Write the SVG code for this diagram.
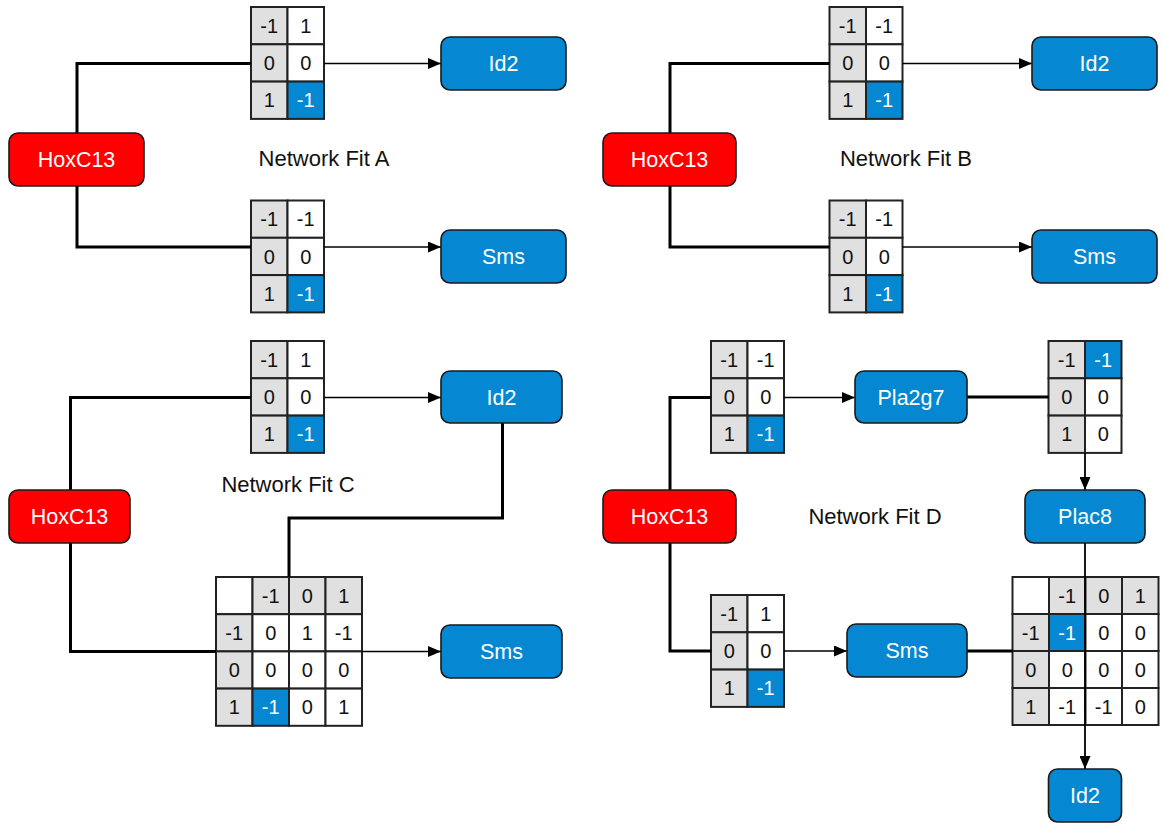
<svg xmlns="http://www.w3.org/2000/svg" width="1163" height="823" viewBox="0 0 1163 823">
<defs>
<marker id="arr" markerWidth="13" markerHeight="11" refX="13" refY="5.5" orient="auto" markerUnits="userSpaceOnUse">
<path d="M0,0 L13,5.5 L0,11 z" fill="#000"/>
</marker>
<style>
.node rect{stroke:#1a1a1a;stroke-width:1.6}
.red{fill:#ff0000}
.blue{fill:#0588d1}
.nt{font-family:"Liberation Sans",Arial,sans-serif;font-size:21.5px;fill:#fff;text-anchor:middle}
.lbl{font-family:"Liberation Sans",Arial,sans-serif;font-size:22px;fill:#111;text-anchor:middle}
.tbl rect{stroke:#222;stroke-width:2}
.g{fill:#e0e0e0}
.w{fill:#fff}
.b{fill:#0588d1}
.tbl text{font-family:"Liberation Sans",Arial,sans-serif;font-size:20px;fill:#111;text-anchor:middle}
.tbl text.wt{fill:#fff}
.thick{fill:none;stroke:#000;stroke-width:3}
.thin{fill:none;stroke:#000;stroke-width:1.5;marker-end:url(#arr)}
.mid{fill:none;stroke:#000;stroke-width:1.8;marker-end:url(#arr)}
</style>
</defs>
<rect width="1163" height="823" fill="#fff"/>

<!-- tables -->
<g id="tA1" class="tbl" transform="translate(251,7)">
<rect class="g" x="0" y="0" width="36.5" height="37.3"/><rect class="w" x="36.5" y="0" width="36.5" height="37.3"/>
<rect class="g" x="0" y="37.3" width="36.5" height="37.3"/><rect class="w" x="36.5" y="37.3" width="36.5" height="37.3"/>
<rect class="g" x="0" y="74.6" width="36.5" height="37.3"/><rect class="b" x="36.5" y="74.6" width="36.5" height="37.3"/>
<text x="18.25" y="25.7">-1</text><text x="54.75" y="25.7">1</text>
<text x="18.25" y="63">0</text><text x="54.75" y="63">0</text>
<text x="18.25" y="100.3">1</text><text class="wt" x="54.75" y="100.3">-1</text>
</g>
<g id="tA2" class="tbl" transform="translate(251,200.5)">
<rect class="g" x="0" y="0" width="36.5" height="37.3"/><rect class="w" x="36.5" y="0" width="36.5" height="37.3"/>
<rect class="g" x="0" y="37.3" width="36.5" height="37.3"/><rect class="w" x="36.5" y="37.3" width="36.5" height="37.3"/>
<rect class="g" x="0" y="74.6" width="36.5" height="37.3"/><rect class="b" x="36.5" y="74.6" width="36.5" height="37.3"/>
<text x="18.25" y="25.7">-1</text><text x="54.75" y="25.7">-1</text>
<text x="18.25" y="63">0</text><text x="54.75" y="63">0</text>
<text x="18.25" y="100.3">1</text><text class="wt" x="54.75" y="100.3">-1</text>
</g>
<g id="tB1" class="tbl" transform="translate(829.5,7)">
<rect class="g" x="0" y="0" width="36.5" height="37.3"/><rect class="w" x="36.5" y="0" width="36.5" height="37.3"/>
<rect class="g" x="0" y="37.3" width="36.5" height="37.3"/><rect class="w" x="36.5" y="37.3" width="36.5" height="37.3"/>
<rect class="g" x="0" y="74.6" width="36.5" height="37.3"/><rect class="b" x="36.5" y="74.6" width="36.5" height="37.3"/>
<text x="18.25" y="25.7">-1</text><text x="54.75" y="25.7">-1</text>
<text x="18.25" y="63">0</text><text x="54.75" y="63">0</text>
<text x="18.25" y="100.3">1</text><text class="wt" x="54.75" y="100.3">-1</text>
</g>
<g id="tB2" class="tbl" transform="translate(829.5,200.5)">
<rect class="g" x="0" y="0" width="36.5" height="37.3"/><rect class="w" x="36.5" y="0" width="36.5" height="37.3"/>
<rect class="g" x="0" y="37.3" width="36.5" height="37.3"/><rect class="w" x="36.5" y="37.3" width="36.5" height="37.3"/>
<rect class="g" x="0" y="74.6" width="36.5" height="37.3"/><rect class="b" x="36.5" y="74.6" width="36.5" height="37.3"/>
<text x="18.25" y="25.7">-1</text><text x="54.75" y="25.7">-1</text>
<text x="18.25" y="63">0</text><text x="54.75" y="63">0</text>
<text x="18.25" y="100.3">1</text><text class="wt" x="54.75" y="100.3">-1</text>
</g>
<g id="tC1" class="tbl" transform="translate(251,341)">
<rect class="g" x="0" y="0" width="36.5" height="37.3"/><rect class="w" x="36.5" y="0" width="36.5" height="37.3"/>
<rect class="g" x="0" y="37.3" width="36.5" height="37.3"/><rect class="w" x="36.5" y="37.3" width="36.5" height="37.3"/>
<rect class="g" x="0" y="74.6" width="36.5" height="37.3"/><rect class="b" x="36.5" y="74.6" width="36.5" height="37.3"/>
<text x="18.25" y="25.7">-1</text><text x="54.75" y="25.7">1</text>
<text x="18.25" y="63">0</text><text x="54.75" y="63">0</text>
<text x="18.25" y="100.3">1</text><text class="wt" x="54.75" y="100.3">-1</text>
</g>
<g id="tC2" class="tbl" transform="translate(216,577)">
<rect class="w" x="0" y="0" width="36.5" height="37.2"/><rect class="g" x="36.5" y="0" width="36.5" height="37.2"/><rect class="g" x="73" y="0" width="36.5" height="37.2"/><rect class="g" x="109.5" y="0" width="36.5" height="37.2"/>
<rect class="g" x="0" y="37.2" width="36.5" height="37.2"/><rect class="w" x="36.5" y="37.2" width="36.5" height="37.2"/><rect class="w" x="73" y="37.2" width="36.5" height="37.2"/><rect class="w" x="109.5" y="37.2" width="36.5" height="37.2"/>
<rect class="g" x="0" y="74.4" width="36.5" height="37.2"/><rect class="w" x="36.5" y="74.4" width="36.5" height="37.2"/><rect class="w" x="73" y="74.4" width="36.5" height="37.2"/><rect class="w" x="109.5" y="74.4" width="36.5" height="37.2"/>
<rect class="g" x="0" y="111.6" width="36.5" height="37.2"/><rect class="b" x="36.5" y="111.6" width="36.5" height="37.2"/><rect class="w" x="73" y="111.6" width="36.5" height="37.2"/><rect class="w" x="109.5" y="111.6" width="36.5" height="37.2"/>
<text x="54.75" y="25.7">-1</text><text x="91.25" y="25.7">0</text><text x="127.75" y="25.7">1</text>
<text x="18.25" y="62.9">-1</text><text x="54.75" y="62.9">0</text><text x="91.25" y="62.9">1</text><text x="127.75" y="62.9">-1</text>
<text x="18.25" y="100.1">0</text><text x="54.75" y="100.1">0</text><text x="91.25" y="100.1">0</text><text x="127.75" y="100.1">0</text>
<text x="18.25" y="137.3">1</text><text class="wt" x="54.75" y="137.3">-1</text><text x="91.25" y="137.3">0</text><text x="127.75" y="137.3">1</text>
</g>
<g id="tD1" class="tbl" transform="translate(711,341)">
<rect class="g" x="0" y="0" width="36.5" height="37.3"/><rect class="w" x="36.5" y="0" width="36.5" height="37.3"/>
<rect class="g" x="0" y="37.3" width="36.5" height="37.3"/><rect class="w" x="36.5" y="37.3" width="36.5" height="37.3"/>
<rect class="g" x="0" y="74.6" width="36.5" height="37.3"/><rect class="b" x="36.5" y="74.6" width="36.5" height="37.3"/>
<text x="18.25" y="25.7">-1</text><text x="54.75" y="25.7">-1</text>
<text x="18.25" y="63">0</text><text x="54.75" y="63">0</text>
<text x="18.25" y="100.3">1</text><text class="wt" x="54.75" y="100.3">-1</text>
</g>
<g id="tD2" class="tbl" transform="translate(1048.5,341)">
<rect class="g" x="0" y="0" width="36.5" height="37.3"/><rect class="b" x="36.5" y="0" width="36.5" height="37.3"/>
<rect class="g" x="0" y="37.3" width="36.5" height="37.3"/><rect class="w" x="36.5" y="37.3" width="36.5" height="37.3"/>
<rect class="g" x="0" y="74.6" width="36.5" height="37.3"/><rect class="w" x="36.5" y="74.6" width="36.5" height="37.3"/>
<text x="18.25" y="25.7">-1</text><text class="wt" x="54.75" y="25.7">-1</text>
<text x="18.25" y="63">0</text><text x="54.75" y="63">0</text>
<text x="18.25" y="100.3">1</text><text x="54.75" y="100.3">0</text>
</g>
<g id="tD3" class="tbl" transform="translate(711,595)">
<rect class="g" x="0" y="0" width="36.5" height="37.3"/><rect class="w" x="36.5" y="0" width="36.5" height="37.3"/>
<rect class="g" x="0" y="37.3" width="36.5" height="37.3"/><rect class="w" x="36.5" y="37.3" width="36.5" height="37.3"/>
<rect class="g" x="0" y="74.6" width="36.5" height="37.3"/><rect class="b" x="36.5" y="74.6" width="36.5" height="37.3"/>
<text x="18.25" y="25.7">-1</text><text x="54.75" y="25.7">1</text>
<text x="18.25" y="63">0</text><text x="54.75" y="63">0</text>
<text x="18.25" y="100.3">1</text><text class="wt" x="54.75" y="100.3">-1</text>
</g>
<g id="tD4" class="tbl" transform="translate(1012.5,577)">
<rect class="w" x="0" y="0" width="36.5" height="37"/><rect class="g" x="36.5" y="0" width="36.5" height="37"/><rect class="g" x="73" y="0" width="36.5" height="37"/><rect class="g" x="109.5" y="0" width="36.5" height="37"/>
<rect class="g" x="0" y="37" width="36.5" height="37"/><rect class="b" x="36.5" y="37" width="36.5" height="37"/><rect class="w" x="73" y="37" width="36.5" height="37"/><rect class="w" x="109.5" y="37" width="36.5" height="37"/>
<rect class="g" x="0" y="74" width="36.5" height="37"/><rect class="w" x="36.5" y="74" width="36.5" height="37"/><rect class="w" x="73" y="74" width="36.5" height="37"/><rect class="w" x="109.5" y="74" width="36.5" height="37"/>
<rect class="g" x="0" y="111" width="36.5" height="37"/><rect class="w" x="36.5" y="111" width="36.5" height="37"/><rect class="w" x="73" y="111" width="36.5" height="37"/><rect class="w" x="109.5" y="111" width="36.5" height="37"/>
<text x="54.75" y="25.6">-1</text><text x="91.25" y="25.6">0</text><text x="127.75" y="25.6">1</text>
<text x="18.25" y="62.6">-1</text><text class="wt" x="54.75" y="62.6">-1</text><text x="91.25" y="62.6">0</text><text x="127.75" y="62.6">0</text>
<text x="18.25" y="99.6">0</text><text x="54.75" y="99.6">0</text><text x="91.25" y="99.6">0</text><text x="127.75" y="99.6">0</text>
<text x="18.25" y="136.6">1</text><text x="54.75" y="136.6">-1</text><text x="91.25" y="136.6">-1</text><text x="127.75" y="136.6">0</text>
</g>

<g id="connectors">
<!-- A -->
<path class="thick" d="M77,133 V63.5 H251"/>
<path class="thin" d="M324,63.5 H441"/>
<path class="thick" d="M77,186 V247 H251"/>
<path class="thin" d="M324,247 H441"/>
<!-- B -->
<path class="thick" d="M670,133 V63.5 H829.5"/>
<path class="thin" d="M902.5,63.5 H1032"/>
<path class="thick" d="M670,186 V247 H829.5"/>
<path class="thin" d="M902.5,247 H1032"/>
<!-- C -->
<path class="thick" d="M70.5,490 V397.5 H251"/>
<path class="thin" d="M324,397.5 H441"/>
<path class="thick" d="M70.5,543 V651.5 H216"/>
<path class="thin" d="M362,651.5 H441"/>
<path class="thick" d="M502.5,423 V518 H289 V577"/>
<!-- D -->
<path class="thick" d="M670,490 V397.5 H711"/>
<path class="thin" d="M784,397.5 H855"/>
<path class="thick" d="M967,397 H1048.5"/>
<path class="mid" d="M1085,453 V490"/>
<path class="thick" d="M670,543 V651 H711"/>
<path class="thin" d="M784,651 H847"/>
<path class="thick" d="M967,651 H1012.5"/>
<path class="mid" d="M1085,543 V769"/>
</g>

<!-- nodes -->
<g id="hoxA" class="node"><rect class="red" x="9" y="133" width="135" height="53" rx="9"/><text class="nt" x="76.5" y="167">HoxC13</text></g>
<g id="id2A" class="node"><rect class="blue" x="441" y="37" width="125" height="53" rx="9"/><text class="nt" x="503.5" y="71">Id2</text></g>
<g id="smsA" class="node"><rect class="blue" x="441" y="230" width="125" height="53" rx="9"/><text class="nt" x="503.5" y="264">Sms</text></g>

<g id="hoxB" class="node"><rect class="red" x="603" y="133" width="133" height="53" rx="9"/><text class="nt" x="669.5" y="167">HoxC13</text></g>
<g id="id2B" class="node"><rect class="blue" x="1032" y="37" width="125" height="53" rx="9"/><text class="nt" x="1094.5" y="71">Id2</text></g>
<g id="smsB" class="node"><rect class="blue" x="1032" y="230" width="125" height="53" rx="9"/><text class="nt" x="1094.5" y="264">Sms</text></g>

<g id="hoxC" class="node"><rect class="red" x="9" y="490" width="121" height="53" rx="9"/><text class="nt" x="69.5" y="524">HoxC13</text></g>
<g id="id2C" class="node"><rect class="blue" x="441" y="371" width="121" height="52" rx="9"/><text class="nt" x="501.5" y="404.5">Id2</text></g>
<g id="smsC" class="node"><rect class="blue" x="441" y="625" width="121" height="53" rx="9"/><text class="nt" x="501.5" y="659">Sms</text></g>

<g id="hoxD" class="node"><rect class="red" x="603" y="490" width="133" height="53" rx="9"/><text class="nt" x="669.5" y="524">HoxC13</text></g>
<g id="pla2g7" class="node"><rect class="blue" x="855" y="371" width="112" height="52" rx="9"/><text class="nt" x="911" y="404.5">Pla2g7</text></g>
<g id="plac8" class="node"><rect class="blue" x="1025" y="490" width="120" height="53" rx="9"/><text class="nt" x="1085" y="524">Plac8</text></g>
<g id="smsD" class="node"><rect class="blue" x="847" y="624" width="120" height="53" rx="9"/><text class="nt" x="907" y="658">Sms</text></g>
<g id="id2D" class="node"><rect class="blue" x="1048.5" y="769" width="73" height="53" rx="9"/><text class="nt" x="1085" y="803">Id2</text></g>

<g id="labels">
<text class="lbl" x="324" y="165.7">Network Fit A</text>
<text class="lbl" x="906" y="165.7">Network Fit B</text>
<text class="lbl" x="288" y="492.3">Network Fit C</text>
<text class="lbl" x="875" y="524">Network Fit D</text>
</g>
</svg>
